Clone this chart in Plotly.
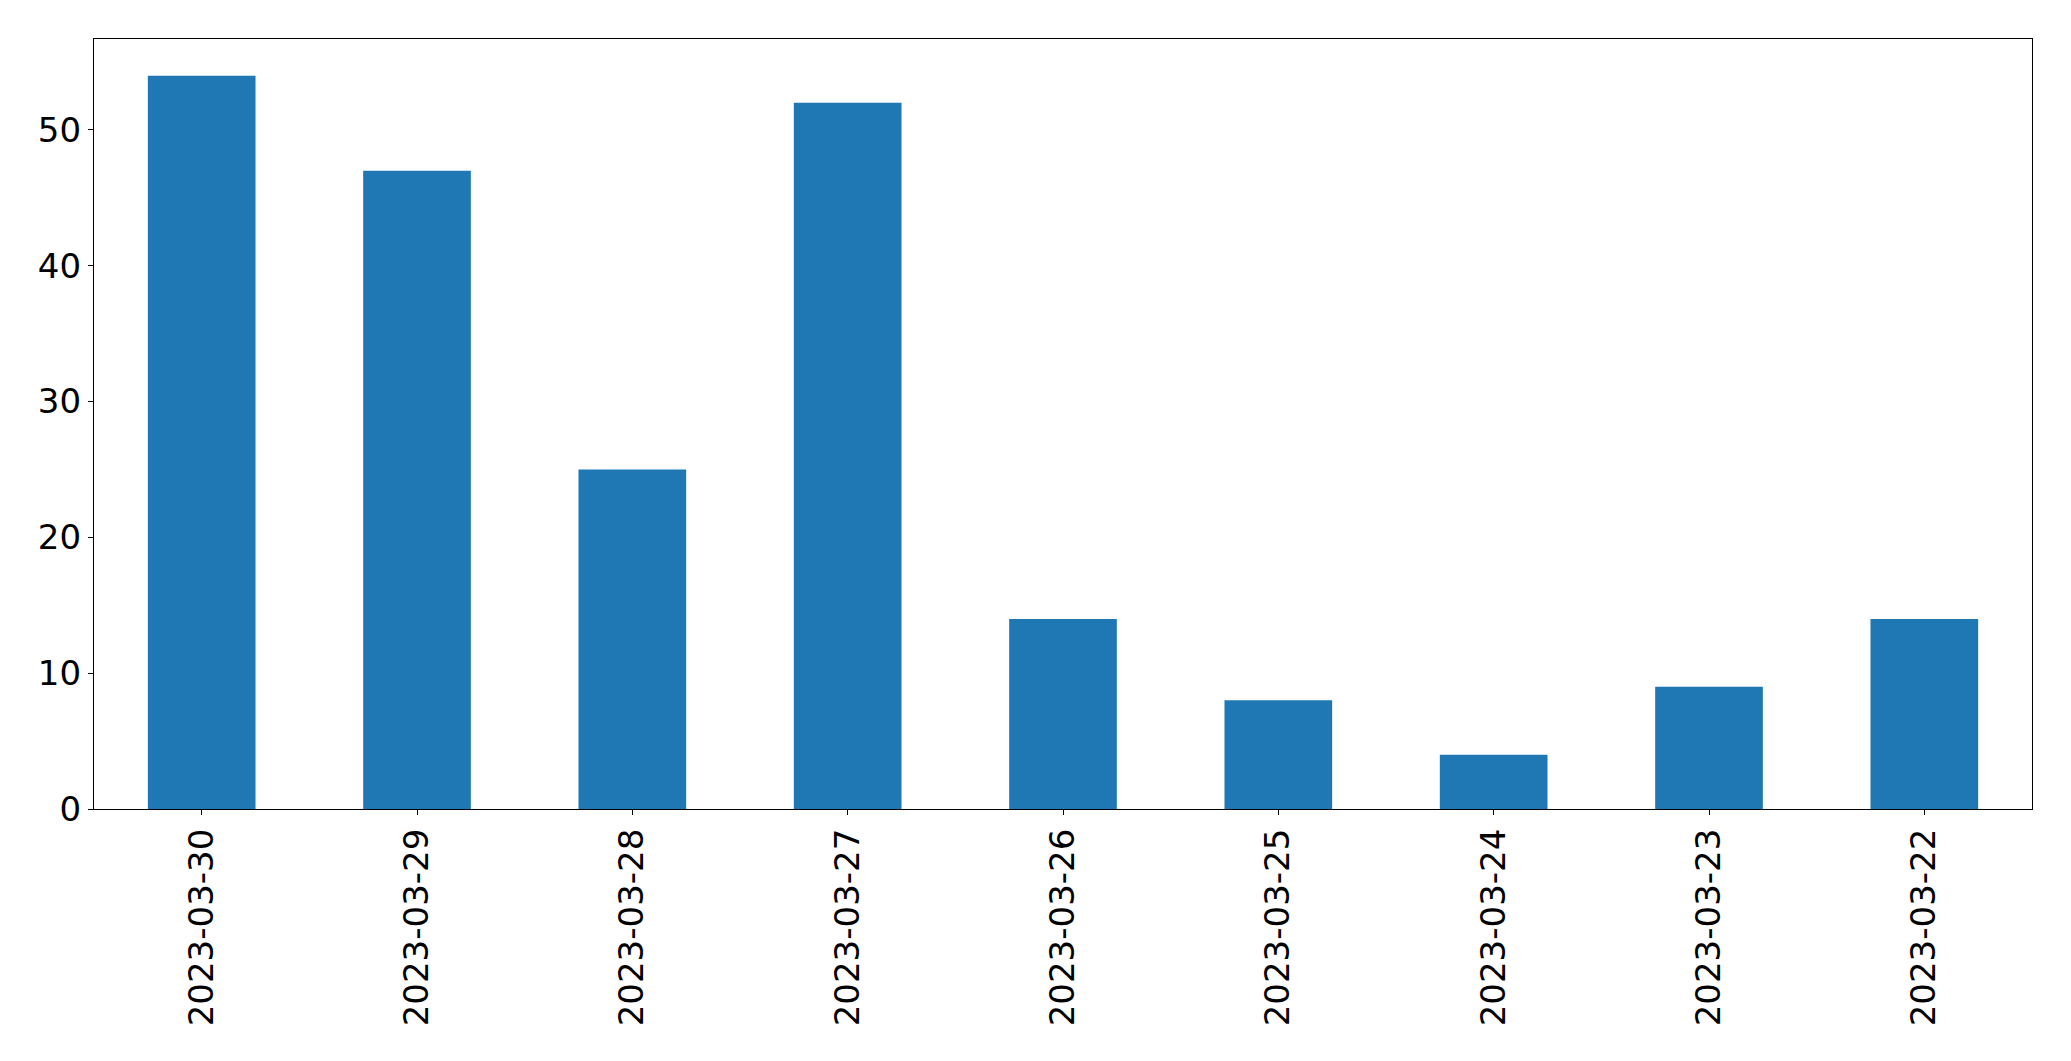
import plotly.graph_objects as go

dates = ["2023-03-30", "2023-03-29", "2023-03-28", "2023-03-27", "2023-03-26",
         "2023-03-25", "2023-03-24", "2023-03-23", "2023-03-22"]
counts = [54, 47, 25, 52, 14, 8, 4, 9, 14]
y_ticks = [0, 10, 20, 30, 40, 50]

fig = go.Figure(go.Bar(x=dates, y=counts, width=0.5, marker=dict(color="#1f77b4", line=dict(width=0))))

fig.update_layout(
    width=2071, height=1061,
    margin=dict(l=86, r=47, t=31, b=260),
    plot_bgcolor="white", paper_bgcolor="white",
    font=dict(family="DejaVu Sans", size=34, color="black"),
    showlegend=False,
    bargap=0.5,
)
fig.update_xaxes(
    type="category", range=[-0.5, len(dates) - 0.5],
    tickangle=-90, ticks="outside", ticklen=5, tickwidth=1.2, tickcolor="black",
    showline=True, linecolor="black", linewidth=1.2, mirror=True,
    showgrid=False, zeroline=False,
    tickfont=dict(family="DejaVu Sans", size=34, color="black"),
)
fig.update_yaxes(
    range=[0, 56.7], tickvals=y_ticks,
    ticks="outside", ticklen=5, tickwidth=1.2, tickcolor="black",
    showline=True, linecolor="black", linewidth=1.2, mirror=True,
    showgrid=False, zeroline=False,
    tickfont=dict(family="DejaVu Sans", size=34, color="black"),
)

fig.write_html("out.html")
